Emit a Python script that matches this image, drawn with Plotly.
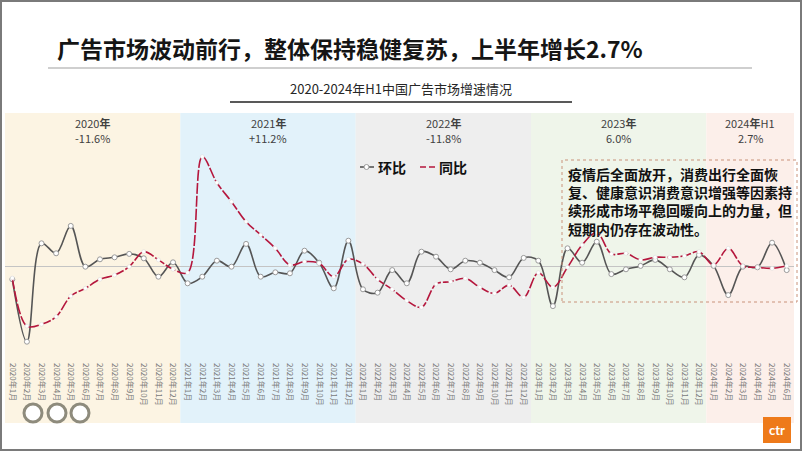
import plotly.graph_objects as go

W, H = 802, 451
ML, MR, MT, MB = 5, 8, 113, 89
PW, PH = W - ML - MR, H - MT - MB

years = [2020, 2021, 2022, 2023, 2024]
months = []
for y in years:
    for m in range(1, 13):
        if y == 2024 and m > 6:
            break
        months.append(f"{y}年{m}月")

# 环比 (month-on-month)
mom = [-6.3, -37.5, 11.7, 6.7, 20.4, 0.0, 3.7, 4.7, 6.4, 4.2, -5.0, 2.2,
       -8.3, -5.0, 3.0, 0.0, 11.4, -5.0, -2.8, -3.3, 8.0, 2.0, -10.8, 13.0,
       -11.3, -13.0, -1.7, -8.3, 7.5, 5.0, -1.3, 3.0, 2.0, -1.7, -5.3, 4.4,
       3.0, -19.7, 9.2, 2.0, 12.5, -3.7, -1.3, 0.4, 3.4, -1.3, -5.3, 5.9,
       0.4, -14.2, 0.0, -0.3, 12.0, -1.7]
# 同比 (year-on-year)
yoy = [-5.7, -29.7, -28.8, -25.0, -14.7, -10.8, -6.3, -4.2, 0.0, 7.5, 3.4, -1.3,
       -3.0, 55.0, 42.0, 32.5, 22.5, 15.9, 9.2, 0.9, 2.5, 1.7, -5.0, 3.7,
       1.4, -6.3, -11.3, -17.0, -20.3, -8.7, -7.5, -5.8, -10.3, -13.3, -9.2, -15.3,
       -3.0, -10.3, -0.3, 10.9, 17.0, 6.4, 6.7, 3.4, 4.7, 4.7, 5.4, 7.5,
       0.9, 9.2, 0.4, -0.3, -0.8, 0.4]

year_labels = ["2020<b>年</b>", "2021<b>年</b>", "2022<b>年</b>", "2023<b>年</b>", "2024<b>年</b>H1"]
year_growth = ["-11.6%", "+11.2%", "-11.8%", "6.0%", "2.7%"]
band_colors = ["#FCF4E3", "#E2F2FA", "#EEEEEE", "#EFF5EA", "#FCEFEA"]

FONT = "Noto Sans CJK SC"
YR = [-47.65, 76.85]
GREY = "#555555"
RED = "#B5173D"


def px(xp):
    return (xp - ML) / PW


def py(yp):
    return 1 - (yp - MT) / PH


def ann(fig, x, y, text, size, color, xanchor="center", xref="paper", **kw):
    fig.add_annotation(x=x, y=py(y), xref=xref, yref="paper", text=text, showarrow=False,
                       xanchor=xanchor, yanchor=kw.pop("yanchor", "middle"),
                       font=dict(size=size, color=color, family=FONT), **kw)


idx = list(range(len(months)))

fig = go.Figure()
fig.add_trace(go.Scatter(
    x=idx, y=mom, name="环比", mode="lines+markers",
    line=dict(color=GREY, width=1.6, shape="spline", smoothing=1),
    marker=dict(size=5, color="white", line=dict(color="#9A9A9A", width=1)),
))
fig.add_trace(go.Scatter(
    x=idx, y=yoy, name="同比", mode="lines+markers",
    line=dict(color=RED, width=1.6, shape="spline", smoothing=1, dash="11px,2px"),
    marker=dict(size=4, color="white", line=dict(color="#D8D8D8", width=0.5)),
))

shapes = []
# year bands
start = 0
for i, y in enumerate(years):
    n = sum(1 for m in months if m.startswith(str(y)))
    x0 = start - 0.5
    x1 = start + n - 0.5
    shapes.append(dict(type="rect", xref="x", yref="paper", x0=x0, x1=x1,
                       y0=py(423), y1=1, fillcolor=band_colors[i],
                       line=dict(width=0), layer="below"))
    cx = start + (n - 1) / 2
    ann(fig, cx, 123, year_labels[i], 11, "#404040", xref="x")
    ann(fig, cx, 138, year_growth[i], 11, "#404040", xref="x")
    start += n

# title lines
shapes.append(dict(type="line", xref="paper", yref="paper", x0=px(48), x1=px(752),
                   y0=py(68), y1=py(68), line=dict(color="#BFBFBF", width=1.5)))
shapes.append(dict(type="line", xref="paper", yref="paper", x0=px(230), x1=px(572),
                   y0=py(102), y1=py(102), line=dict(color="#595959", width=2)))
# annotation dashed box
shapes.append(dict(type="rect", xref="paper", yref="paper", x0=px(562), x1=px(797),
                   y0=py(302), y1=py(160), line=dict(color="#C9927A", width=1, dash="dot")))
# manual legend
shapes.append(dict(type="line", xref="paper", yref="paper", x0=px(360), x1=px(374),
                   y0=py(167), y1=py(167), line=dict(color=GREY, width=1.6)))
shapes.append(dict(type="circle", xref="paper", yref="paper", x0=px(364), x1=px(369),
                   y0=py(169.5), y1=py(164.5), line=dict(color="#9A9A9A", width=1), fillcolor="white"))
shapes.append(dict(type="line", xref="paper", yref="paper", x0=px(420), x1=px(436),
                   y0=py(167), y1=py(167), line=dict(color=RED, width=1.6, dash="6px,3px")))
ann(fig, px(376), 167, "<b>环比</b>", 14, "#111111", xanchor="left")
ann(fig, px(437), 167, "<b>同比</b>", 14, "#111111", xanchor="left")

# certification logos (approximate)
for cxp in [33, 57, 80]:
    shapes.append(dict(type="circle", xref="paper", yref="paper", x0=px(cxp - 9), x1=px(cxp + 9),
                       y0=py(422), y1=py(404), line=dict(color="#8E8B7C", width=3),
                       fillcolor="white"))
# ctr logo
shapes.append(dict(type="rect", xref="paper", yref="paper", x0=px(763), x1=px(791),
                   y0=py(443), y1=py(417), line=dict(width=0), fillcolor="#EE7A1A"))
# slide frame
shapes.append(dict(type="rect", xref="paper", yref="paper", x0=px(1), x1=px(801),
                   y0=py(450), y1=py(1), line=dict(color="#7A7A7A", width=2)))

fig.add_annotation(x=px(777), y=py(430), xref="paper", yref="paper", text="<b>ctr</b>",
                   xanchor="center", yanchor="middle",
                   showarrow=False, font=dict(size=13, color="white", family="Lato"))

ann(fig, px(55), 48, "<b>广告市场波动前行，整体保持稳健复苏，上半年增长2.7%</b>", 23, "#151515",
    xanchor="left")
ann(fig, px(401), 89, "2020-2024年H1中国广告市场增速情况", 13, "#262626")
ann(fig, px(566), 162,
    "<b>疫情后全面放开，消费出行全面恢<br>复、健康意识消费意识增强等因素持<br>续形成市场平稳回暖向上的力量，但<br>短期内仍存在波动性。</b>",
    14, "#111111", xanchor="left", yanchor="top", align="left")

fig.update_layout(
    width=W, height=H,
    margin=dict(l=ML, r=MR, t=MT, b=MB, pad=0),
    paper_bgcolor="white", plot_bgcolor="rgba(0,0,0,0)",
    shapes=shapes,
    showlegend=False,
    font=dict(family=FONT),
)
fig.update_xaxes(range=[-0.5, len(months) - 0.5], tickmode="array", tickvals=idx, ticktext=months,
                 tickangle=90, tickfont=dict(size=8, color="#7A7A7A", family=FONT),
                 showgrid=False, zeroline=False, showline=False, ticks="")
fig.update_yaxes(range=YR, showgrid=False, zeroline=True, zerolinecolor="#C4C4C4", zerolinewidth=1,
                 showticklabels=False, ticks="", showline=False)

fig.write_html("out.html")
